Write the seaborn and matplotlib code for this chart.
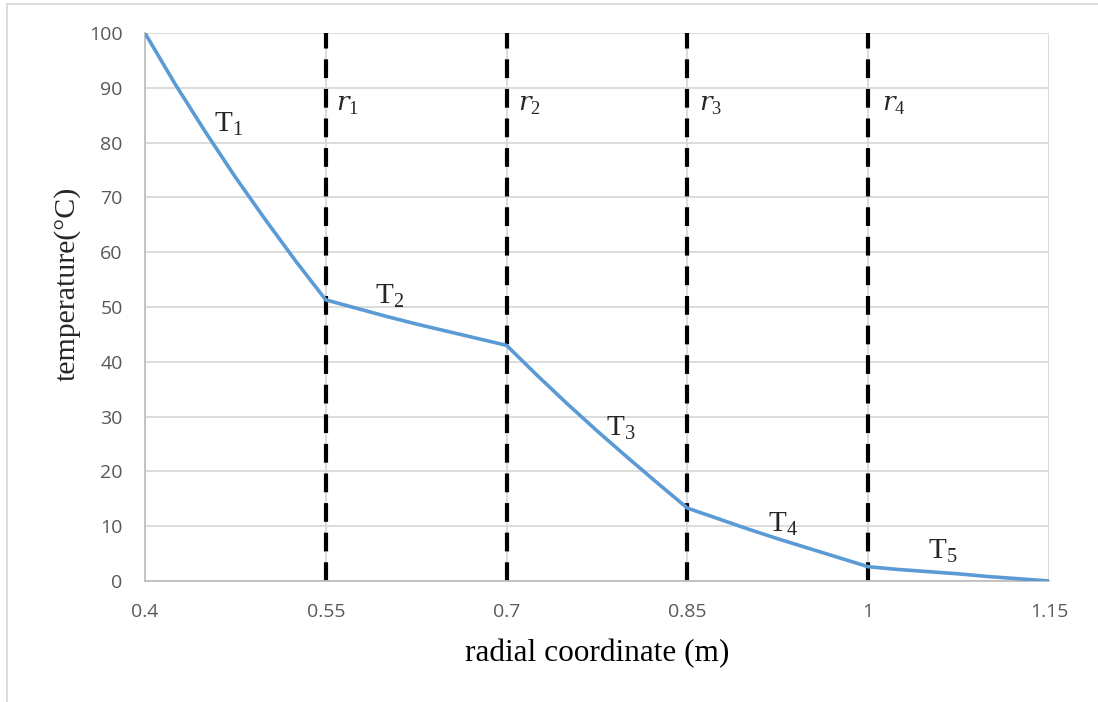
import pandas as pd
import seaborn as sns
import matplotlib.pyplot as plt
from matplotlib.lines import Line2D

# radial positions (m) and temperatures (°C)
radius = [0.4, 0.425, 0.45, 0.475, 0.5, 0.525, 0.55,
          0.575, 0.6, 0.625, 0.65, 0.675, 0.7,
          0.725, 0.75, 0.775, 0.8, 0.825, 0.85,
          0.875, 0.9, 0.925, 0.95, 0.975, 1.0,
          1.025, 1.05, 1.075, 1.1, 1.125, 1.15]
temperature = [100, 90.7, 82.0, 73.7, 65.9, 58.4, 51.3,
               49.8, 48.3, 46.9, 45.6, 44.3, 43.0,
               37.6, 32.4, 27.4, 22.6, 17.9, 13.3,
               11.4, 9.5, 7.7, 6.0, 4.3, 2.6,
               2.1, 1.7, 1.3, 0.8, 0.4, 0.0]

interfaces = [0.55, 0.7, 0.85, 1.0]
interface_subs = ["1", "2", "3", "4"]
interface_label_x = [0.568, 0.719, 0.869, 1.021]

layer_subs = ["1", "2", "3", "4", "5"]
layer_x = [0.469, 0.603, 0.795, 0.929, 1.062]
layer_y = [83.5, 52.0, 28.0, 10.5, 5.5]

xticks = [0.4, 0.55, 0.7, 0.85, 1.0, 1.15]
xtick_labels = ["0.4", "0.55", "0.7", "0.85", "1", "1.15"]
yticks = list(range(0, 101, 10))

df = pd.DataFrame({"r": radius, "T": temperature})

sns.set_style("white")
plt.rcParams["font.family"] = ["Open Sans", "DejaVu Sans"]
plt.rcParams["mathtext.fontset"] = "custom"
plt.rcParams["mathtext.rm"] = "Liberation Serif"
plt.rcParams["mathtext.it"] = "DejaVu Serif:italic"

fig = plt.figure(figsize=(10.98, 7.02), dpi=100)
ax = fig.add_axes([0.132, 0.1724, 0.8234, 0.7806])

# gridlines
for x in xticks:
    ax.axvline(x, color="#d9d9d9", lw=1.3, zorder=0)
for y in yticks:
    ax.axhline(y, color="#d9d9d9", lw=1.3, zorder=0)

# interface lines
for x in interfaces:
    ax.plot([x, x], [0, 100], color="black", lw=3.0, ls=(0, (4.5, 2.6)), zorder=2)

sns.lineplot(data=df, x="r", y="T", ax=ax, color="#5b9bd5", lw=2.6, zorder=3)

ax.set_xlim(0.4, 1.15)
ax.set_ylim(0, 100)
ax.set_xticks(xticks)
ax.set_xticklabels(xtick_labels)
ax.set_yticks(yticks)
ax.tick_params(axis="both", length=0, labelsize=14, colors="#595959")
ax.tick_params(axis="x", pad=16)
ax.tick_params(axis="y", pad=16)

for side in ["top", "right"]:
    ax.spines[side].set_visible(False)
for side in ["left", "bottom"]:
    ax.spines[side].set_color("#bfbfbf")
    ax.spines[side].set_linewidth(1.3)

ax.set_xlabel("radial coordinate (m)", family="Liberation Serif", fontsize=22.5,
              color="black", labelpad=13)
ax.set_ylabel("")
# y axis title placed close to the tick labels, as in the original
fig.text(67 / 1098, 1 - 284 / 702, "temperature(°C)", family="Liberation Serif",
         fontsize=21.5, rotation=90, ha="center", va="center")

for lx, s in zip(interface_label_x, interface_subs):
    ax.text(lx, 87.0, "$\\mathit{r}_{%s}$" % s, fontsize=19,
            ha="center", va="center", zorder=4)

for lx, ly, s in zip(layer_x, layer_y, layer_subs):
    ax.text(lx, ly, "$\\mathrm{T}_{\\mathrm{%s}}$" % s, fontsize=21,
            ha="center", va="center", zorder=4)

# chart-area frame (left and top edges visible)
fig.add_artist(Line2D([0.0065, 0.0065], [0, 0.994], color="#d9d9d9", lw=1.3,
                      transform=fig.transFigure))
fig.add_artist(Line2D([0.0065, 1.0], [0.994, 0.994], color="#d9d9d9", lw=1.3,
                      transform=fig.transFigure))

fig.savefig("out.png", dpi=100)
